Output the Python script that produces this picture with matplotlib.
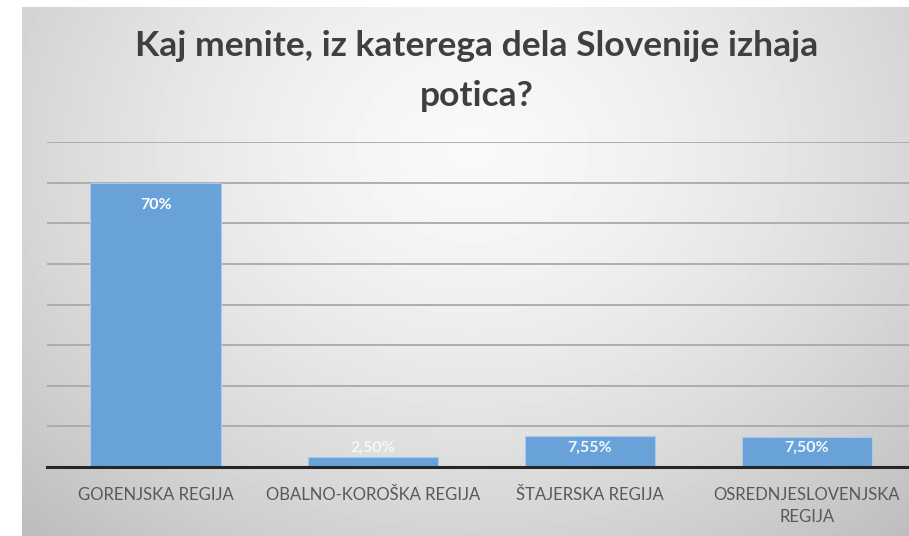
import numpy as np
import matplotlib.pyplot as plt

categories = ['GORENJSKA REGIJA', 'OBALNO-KOROŠKA REGIJA', 'ŠTAJERSKA REGIJA',
              'OSREDNJESLOVENJSKA\nREGIJA']
values = [70, 2.5, 7.55, 7.5]
value_labels = ['70%', '2,50%', '7,55%', '7,50%']

W, H = 909, 536
fig = plt.figure(figsize=(W / 100, H / 100), dpi=100)
fig.patch.set_facecolor('white')

# grey card behind the chart, lighter towards the top middle
bg = fig.add_axes([22 / W, 0, 1 - 22 / W, 1 - 7 / H])
yy, xx = np.mgrid[0:529, 0:887]
r = np.sqrt(((xx - 450) / 520) ** 2 + ((yy - 140) / 430) ** 2)
shade = 0.975 - 0.17 * np.clip(r, 0, 1.4) ** 1.5
bg.imshow(shade, cmap='gray', vmin=0, vmax=1, aspect='auto', interpolation='bilinear')
bg.axis('off')

fig.text(477 / W, 1 - 71 / H, 'Kaj menite, iz katerega dela Slovenije izhaja\npotica?',
         ha='center', va='center', fontsize=25.5, fontweight='bold',
         family='Lato', color='#3f3f3f', linespacing=1.72)

ax = fig.add_axes([47 / W, (H - 467) / H, 1 - 47 / W, (467 - 142) / H])
ax.set_facecolor('none')
x = np.arange(len(values))
bars = ax.bar(x, values, width=0.6, color='#68a2d8', edgecolor='#a8caea', linewidth=0.8, zorder=3)

ax.set_xlim(-0.5, 3.47)
ax.set_ylim(0, 80)
ax.set_yticks(range(0, 81, 10))
ax.yaxis.grid(True, color='#a9a9a9', linewidth=1.3, zorder=0)
ax.tick_params(left=False, labelleft=False, bottom=False, pad=11)
for s in ['top', 'right', 'left']:
    ax.spines[s].set_visible(False)
ax.spines['bottom'].set_color('#262626')
ax.spines['bottom'].set_linewidth(2.2)
ax.spines['bottom'].set_zorder(4)

ax.set_xticks(x, categories, fontsize=12, color='#595959', family='Lato',
              linespacing=1.45)

for i, (v, lab) in enumerate(zip(values, value_labels)):
    if v > 20:
        ax.annotate(lab, (i, v), xytext=(0, -16), textcoords='offset points',
                    ha='center', va='center', color='white', fontsize=11.5,
                    fontweight='bold', family='Lato', zorder=5)
    else:
        ax.text(i, 4.8, lab, ha='center', va='center', color='#f4f8fc', fontsize=11.5,
                fontweight='bold', family='Lato', zorder=5)

fig.savefig('out.png', dpi=100)
